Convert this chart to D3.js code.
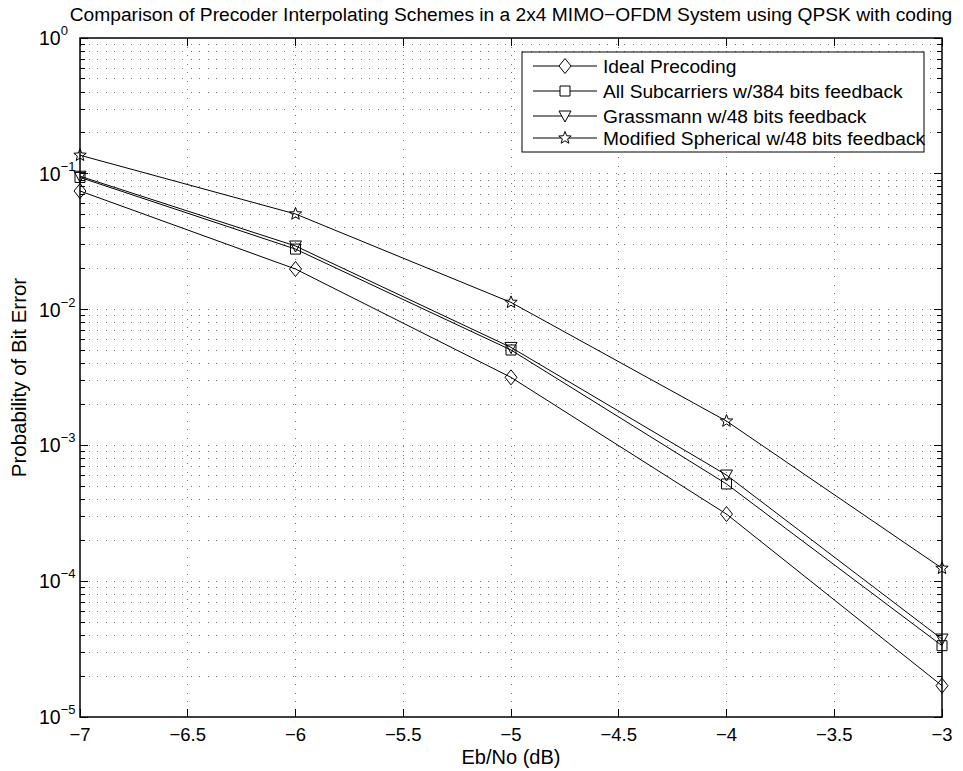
<!DOCTYPE html>
<html><head><meta charset="utf-8">
<script src="https://cdn.jsdelivr.net/npm/d3@7"></script>
<style>
body{margin:0;background:#fff;}
text{font-family:"Liberation Sans",Arial,Helvetica,sans-serif;fill:#000;}
</style></head>
<body><svg id="c" width="963" height="771"></svg>
<script>
const ebno = [-7, -6, -5, -4, -3];
const ideal = [0.0747, 0.0199, 0.00317, 0.000312, 0.0000170];
const allSub = [0.0940, 0.0279, 0.00504, 0.000520, 0.0000335];
const grass = [0.0960, 0.0294, 0.00527, 0.000605, 0.0000375];
const modSph = [0.137, 0.0506, 0.0113, 0.00151, 0.0001245];
const seriesNames = ["Ideal Precoding","All Subcarriers w/384 bits feedback","Grassmann w/48 bits feedback","Modified Spherical w/48 bits feedback"];
const seriesMarkers = ["diamond","square","triangle-down","star"];
const xTicks = [-7,-6.5,-6,-5.5,-5,-4.5,-4,-3.5,-3];
const yExps = [0,-1,-2,-3,-4,-5];
const titleText = "Comparison of Precoder Interpolating Schemes in a 2x4 MIMO\u2212OFDM System using QPSK with coding";

const series = [ideal, allSub, grass, modSph].map((v,i)=>({name:seriesNames[i], marker:seriesMarkers[i], values:v}));

const L=80, R=942, T=38, B=717;
const svg = d3.select("#c");
const x = d3.scaleLinear().domain([-7,-3]).range([L,R]);
const y = d3.scaleLog().domain([1e-5,1]).range([B,T]);

// grid
const g = svg.append("g");
const minorY = [];
for (let e=-5;e<0;e++) for (let k=1;k<10;k++) minorY.push(k*Math.pow(10,e));
minorY.push(1);
g.selectAll(".hg").data(minorY.filter(v=>v>1e-5&&v<1)).enter().append("line")
 .attr("x1",L).attr("x2",R).attr("y1",d=>y(d)).attr("y2",d=>y(d))
 .attr("stroke","#777").attr("stroke-width",1).attr("stroke-dasharray","1,7.5").attr("shape-rendering","crispEdges");
g.selectAll(".vg").data(xTicks.slice(1,-1)).enter().append("line")
 .attr("x1",d=>x(d)).attr("x2",d=>x(d)).attr("y1",T).attr("y2",B)
 .attr("stroke","#777").attr("stroke-width",1).attr("stroke-dasharray","1,7.5").attr("shape-rendering","crispEdges");

// ticks inward
const tk = svg.append("g").attr("stroke","#000").attr("stroke-width",1).attr("shape-rendering","crispEdges");
xTicks.forEach(v=>{
  tk.append("line").attr("x1",x(v)).attr("x2",x(v)).attr("y1",B).attr("y2",B-8);
  tk.append("line").attr("x1",x(v)).attr("x2",x(v)).attr("y1",T).attr("y2",T+8);
});
minorY.forEach(v=>{
  const major = Math.abs(Math.log10(v)-Math.round(Math.log10(v)))<1e-9;
  const len = major?8:5;
  tk.append("line").attr("x1",L).attr("x2",L+len).attr("y1",y(v)).attr("y2",y(v));
  tk.append("line").attr("x1",R).attr("x2",R-len).attr("y1",y(v)).attr("y2",y(v));
});
// box
svg.append("rect").attr("x",L).attr("y",T).attr("width",R-L).attr("height",B-T)
 .attr("fill","none").attr("stroke","#000").attr("stroke-width",1.5);

// tick labels
svg.selectAll(".xl").data(xTicks).enter().append("text")
 .attr("x",d=>x(d)).attr("y",741).attr("text-anchor","middle").attr("font-size",18.5)
 .text(d=>(d<0?"\u2212":"")+Math.abs(d));
yExps.forEach(e=>{
  const t = svg.append("text").attr("x",39).attr("y",y(Math.pow(10,e))+7).attr("font-size",19.5);
  t.append("tspan").text("10");
  t.append("tspan").attr("dy",-10).attr("font-size",13).text(e<0?"\u2212"+Math.abs(e):String(e));
});

// axis titles
svg.append("text").attr("x",(L+R)/2).attr("y",764).attr("text-anchor","middle").attr("font-size",20).text("Eb/No (dB)");
svg.append("text").attr("transform",`translate(26,${(T+B)/2}) rotate(-90)`).attr("text-anchor","middle").attr("font-size",20.5).text("Probability of Bit Error");
svg.append("text").attr("x",511).attr("y",21).attr("text-anchor","middle").attr("font-size",19.2).text(titleText);

// markers
function markerPath(type){
  switch(type){
    case "diamond": return "M0,-7.5L6,0L0,7.5L-6,0Z";
    case "square": return "M-5,-5H5V5H-5Z";
    case "triangle-down": return "M-6,-5H6L0,6Z";
    case "star": {
      let p=""; for(let i=0;i<10;i++){const r=i%2?2.8:6.5; const a=-Math.PI/2+i*Math.PI/5; p+=(i?"L":"M")+(r*Math.cos(a)).toFixed(2)+","+(r*Math.sin(a)).toFixed(2);} return p+"Z";
    }
  }
}
const line = d3.line().x((d,i)=>x(ebno[i])).y(d=>y(d));
svg.append("clipPath").attr("id","clip").append("rect").attr("x",L-10).attr("y",T).attr("width",R-L+20).attr("height",B-T);
const sg = svg.append("g").attr("clip-path","url(#clip)");
series.forEach(s=>{
  sg.append("path").attr("d",line(s.values)).attr("fill","none").attr("stroke","#000").attr("stroke-width",1);
  sg.selectAll(null).data(s.values).enter().append("path")
   .attr("transform",(d,i)=>`translate(${x(ebno[i])},${y(d)})`)
   .attr("d",markerPath(s.marker)).attr("fill","none").attr("stroke","#000").attr("stroke-width",1);
});

// legend
const lg = svg.append("g");
lg.append("rect").attr("x",522).attr("y",52).attr("width",402).attr("height",100).attr("fill","#fff").attr("stroke","#000").attr("stroke-width",1);
const ly = [66,91,116,138];
series.forEach((s,i)=>{
  lg.append("line").attr("x1",533).attr("x2",597).attr("y1",ly[i]).attr("y2",ly[i]).attr("stroke","#000").attr("stroke-width",1);
  lg.append("path").attr("transform",`translate(565,${ly[i]})`).attr("d",markerPath(s.marker)).attr("fill","#fff").attr("stroke","#000").attr("stroke-width",1);
  lg.append("text").attr("x",603).attr("y",ly[i]+7).attr("font-size",19.2).text(s.name);
});
</script></body></html>
